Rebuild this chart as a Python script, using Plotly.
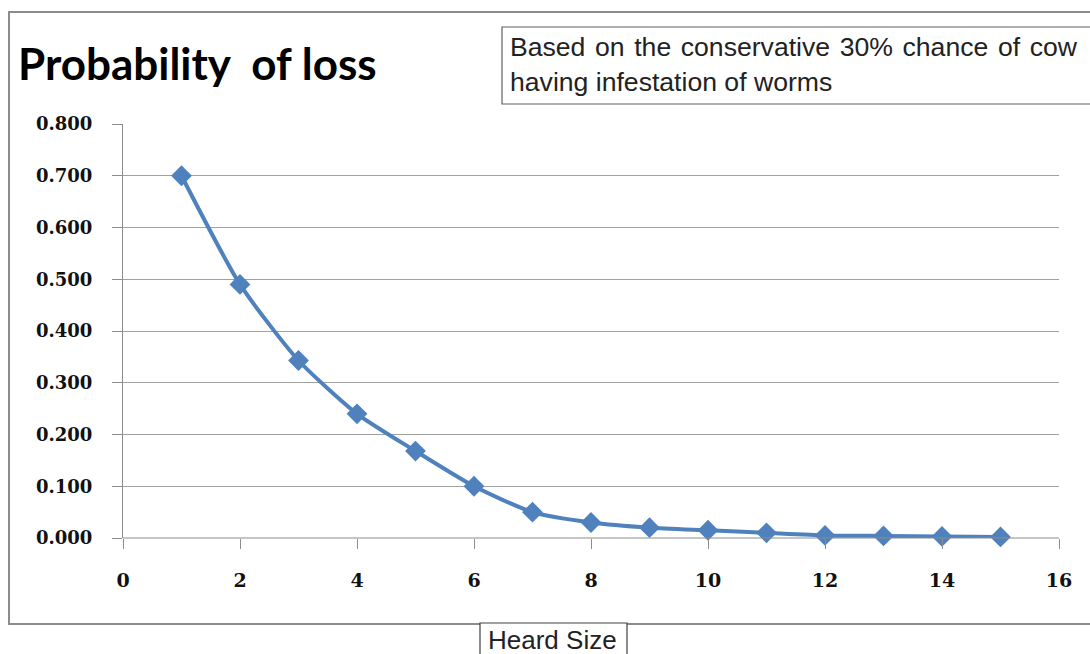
import plotly.graph_objects as go

herd_size = [1, 2, 3, 4, 5, 6, 7, 8, 9, 10, 11, 12, 13, 14, 15]
prob_loss = [0.700, 0.490, 0.343, 0.240, 0.168, 0.100, 0.050, 0.030, 0.020,
             0.015, 0.010, 0.005, 0.004, 0.003, 0.002]
x_ticks = [0, 2, 4, 6, 8, 10, 12, 14, 16]
y_ticks = [0.0, 0.1, 0.2, 0.3, 0.4, 0.5, 0.6, 0.7, 0.8]
y_tick_labels = ["%.3f" % v for v in y_ticks]

W, H = 1090, 654
L, R, T, B = 123, 1059, 124, 538  # plot area in pixels


def px(x):
    return (x - L) / (R - L)


def py(y):
    return (B - y) / (B - T)


fig = go.Figure()
fig.add_trace(go.Scatter(
    x=herd_size, y=prob_loss, mode="lines+markers",
    line=dict(color="#4F81BD", width=4, shape="spline", smoothing=0.6),
    marker=dict(symbol="diamond", size=16, color="#4F81BD"),
    showlegend=False, cliponaxis=False,
))

fig.update_layout(
    width=W, height=H,
    margin=dict(l=L, r=W - R, t=T, b=H - B),
    paper_bgcolor="white", plot_bgcolor="white",
    xaxis=dict(range=[0, 16], tickvals=x_ticks, ticks="outside", ticklen=10,
               tickcolor="#8c8c8c", showgrid=False, zeroline=False,
               showline=False, ticklabelstandoff=15,
               tickfont=dict(family="DejaVu Serif", size=19, color="#111",
                             weight="bold")),
    yaxis=dict(range=[0, 0.8], tickvals=y_ticks, ticktext=y_tick_labels,
               ticks="outside", ticklen=10, tickcolor="#8c8c8c",
               showgrid=True, gridcolor="#a0a0a0", gridwidth=1,
               zeroline=False, showline=True, linecolor="#8c8c8c", linewidth=1,
               ticklabelstandoff=16,
               tickfont=dict(family="DejaVu Serif", size=18, color="#111",
                             weight="bold")),
)

# bottom axis line
fig.add_shape(type="line", xref="paper", yref="paper", x0=0, x1=1, y0=0, y1=0,
              line=dict(color="#8c8c8c", width=1))

# outer chart border
fig.add_shape(type="rect", xref="paper", yref="paper",
              x0=px(9), x1=px(1096), y0=py(624), y1=py(12),
              line=dict(color="#8c8c8c", width=2), layer="below")

# note box
fig.add_shape(type="rect", xref="paper", yref="paper",
              x0=px(502), x1=px(1096), y0=py(104), y1=py(27),
              line=dict(color="#606060", width=1.2), fillcolor="white")

# x-axis title box
fig.add_shape(type="rect", xref="paper", yref="paper",
              x0=px(480), x1=px(627), y0=py(660), y1=py(623),
              line=dict(color="#404040", width=1.2), fillcolor="white")

fig.add_annotation(text="Probability\u00a0\u00a0of loss", xref="paper", yref="paper",
                   x=px(16), y=py(63), xanchor="left", yanchor="middle",
                   showarrow=False,
                   font=dict(family="Lato", size=44, color="#000000", weight="bold"))

line1 = "Based on the conservative 30% chance of cow".replace(" ", " \u200a")
fig.add_annotation(text=line1 + "<br>having infestation of worms",
                   xref="paper", yref="paper", x=px(508), y=py(64),
                   xanchor="left", yanchor="middle", align="left", showarrow=False,
                   font=dict(family="Liberation Sans", size=26.6, color="#222222"))

fig.add_annotation(text="Heard Size", xref="paper", yref="paper",
                   x=px(486), y=py(640), xanchor="left", yanchor="middle",
                   showarrow=False,
                   font=dict(family="Liberation Sans", size=26, color="#222222"))

fig.write_html("out.html")
